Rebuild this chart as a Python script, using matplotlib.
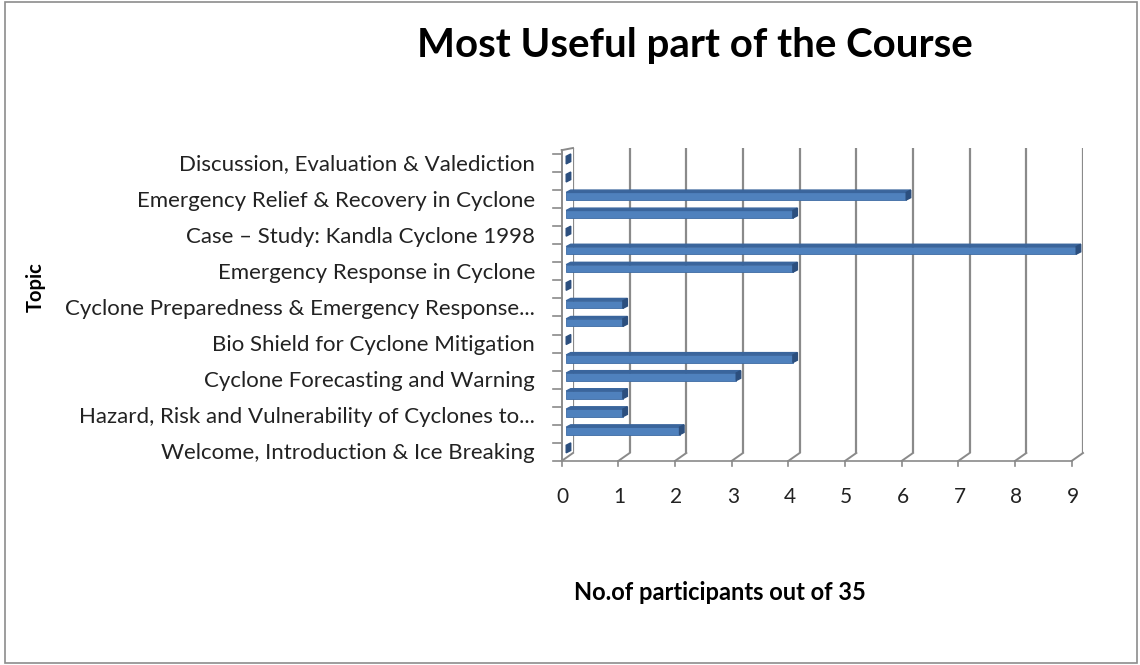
import matplotlib
matplotlib.use("Agg")
import matplotlib.pyplot as plt
from matplotlib.patches import Polygon, Rectangle

plt.rcParams['font.family'] = ['Lato', 'DejaVu Sans']

# categories from bottom to top; only every second one is labelled on the chart
topics = [
    "Welcome, Introduction & Ice Breaking", "",
    "Hazard, Risk and Vulnerability of Cyclones to...", "",
    "Cyclone Forecasting and Warning", "",
    "Bio Shield for Cyclone Mitigation", "",
    "Cyclone Preparedness & Emergency Response...", "",
    "Emergency Response in Cyclone", "",
    "Case \u2013 Study: Kandla Cyclone 1998", "",
    "Emergency Relief & Recovery in Cyclone", "",
    "Discussion, Evaluation & Valediction",
]
counts = [0, 2, 1, 1, 3, 4, 0, 1, 1, 0, 4, 9, 0, 4, 6, 0, 0]
x_ticks = list(range(10))

W, H = 1140, 665
fig = plt.figure(figsize=(W / 100, H / 100), dpi=100)
fig.patches.append(Rectangle((0.004, 0.003), 0.993, 0.994, transform=fig.transFigure,
                             fill=False, edgecolor="#8c8c8c", lw=1.2))

left, right, top, bottom = 573, 1083, 148, 453
ax = fig.add_axes([left / W, 1 - bottom / H, (right - left) / W, (bottom - top) / H])
n = len(counts)
y_lo, y_hi = -0.22, 16.67
ax.set_xlim(0, 9)
ax.set_ylim(y_lo, y_hi)
for s in ax.spines.values():
    s.set_visible(False)

grey = "#8a8a8a"
y_front = -0.66
dx = 0.2
# gridlines on the back wall with a slanted floor edge
for x in x_ticks:
    ax.plot([x, x], [y_lo, y_hi], color=grey, lw=1.6, zorder=1)
    ax.plot([x, x - dx], [y_lo, y_front], color=grey, lw=1.4, zorder=1, clip_on=False)
    ax.plot([x - dx, x - dx], [y_front, y_front - 0.3], color=grey, lw=1.2, clip_on=False)
ax.plot([-dx, 9 - dx], [y_front, y_front], color=grey, lw=1.2, clip_on=False)
# left wall
ax.plot([-dx, -dx], [y_front, y_hi - 0.12], color=grey, lw=1.4, clip_on=False)
ax.plot([-dx, 0], [y_hi - 0.12, y_hi], color=grey, lw=1.4, clip_on=False)
for k in range(n + 1):
    ax.plot([-dx - 0.15, -dx], [y_front + k, y_front + k], color=grey, lw=1.2, clip_on=False)

# 3d-ish bars, standing in the middle of the depth
x0 = -0.12
h, d, e = 0.42, 0.08, 0.13
for i, v in enumerate(counts):
    y0, y1 = i - h / 2, i + h / 2
    x1 = x0 + v
    if v > 0:
        ax.barh(i, v, left=x0, height=h, color="#4f81bd", edgecolor="#3d6ba3", lw=0.6,
                zorder=3, clip_on=False)
        ax.add_patch(Polygon([(x0, y1), (x1, y1), (x1 + d, y1 + e), (x0 + d, y1 + e)],
                             closed=True, color="#3a659c", zorder=3, clip_on=False))
    ax.add_patch(Polygon([(x1, y0), (x1 + d, y0 + e), (x1 + d, y1 + e), (x1, y1)],
                         closed=True, color="#2c4f7e", zorder=4, clip_on=False))

ax.set_xticks([])
ax.set_yticks([])
for i, t in enumerate(topics):
    if t:
        ax.text(-0.67, i - 0.24, t, ha="right", va="center", fontsize=16, color="#222222")
for x in x_ticks:
    ax.text(x - 0.18, -2.66, str(x), ha="center", va="center", fontsize=15, color="#222222")

fig.text(695 / W, 1 - 45 / H, "Most Useful part of the Course", ha="center", va="center",
         fontsize=29, fontweight="bold")
fig.text(720 / W, 1 - 592 / H, "No.of participants out of 35", ha="center", va="center",
         fontsize=17, fontweight="bold")
fig.text(36 / W, 1 - 287 / H, "Topic", ha="center", va="center", rotation=90,
         fontsize=14.5, fontweight="bold")

fig.savefig("out.png", dpi=100)
